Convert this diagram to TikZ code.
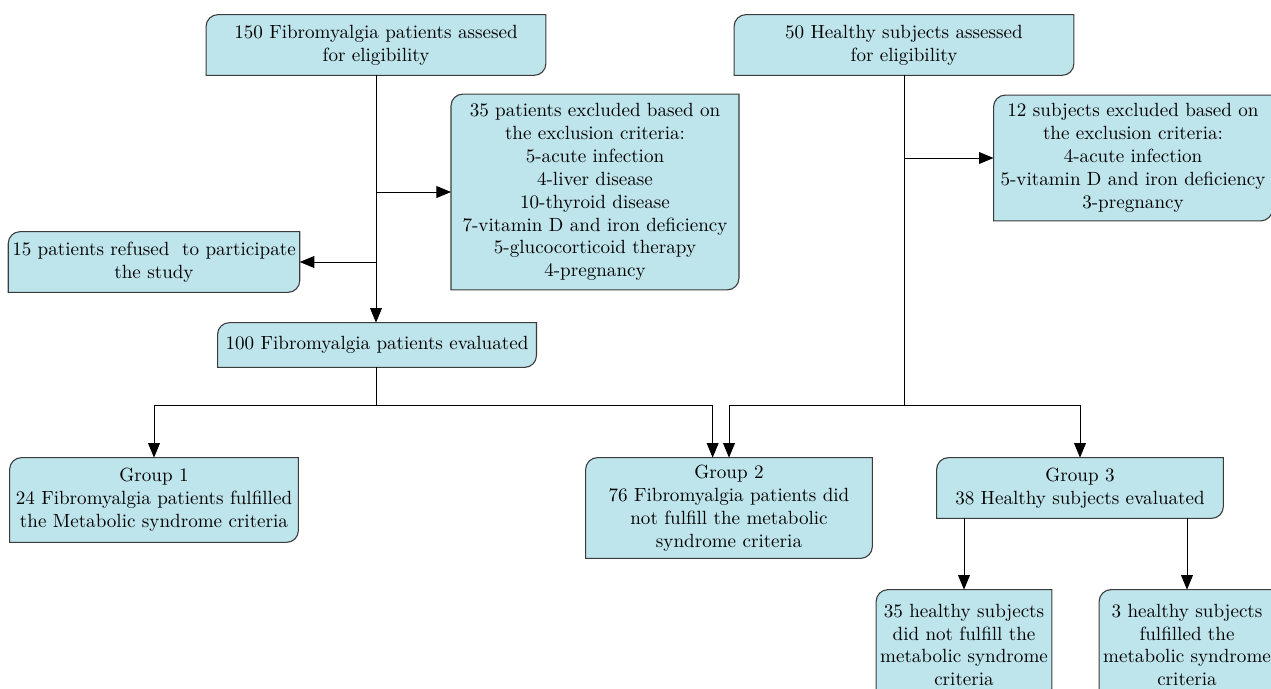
\documentclass[tikz,border=0pt]{standalone}
\usepackage{tikz}
\usetikzlibrary{arrows.meta, backgrounds}

\definecolor{boxblue}{RGB}{190,228,236}
\definecolor{boxedge}{RGB}{60,60,60}

% box with two rounded corners (top left, bottom right)
\newcommand{\halfround}[1]{%
  \draw[boxline] (#1.north east) -- ([xshift=6.5pt]#1.north west)
    arc[start angle=90, end angle=180, radius=6.5pt] -- (#1.south west)
    -- ([xshift=-6.5pt]#1.south east)
    arc[start angle=-90, end angle=0, radius=6.5pt] -- cycle;}

\tikzset{
  flowbox/.style={align=center, inner sep=2pt, font=\fontsize{10.5}{12.6}\selectfont},
  boxline/.style={fill=boxblue, draw=boxedge, line width=0.6pt},
  arr/.style={-{Triangle[length=8pt, width=6.5pt]}, line width=0.5pt},
  link/.style={line width=0.5pt}
}

\begin{document}
\begin{tikzpicture}[x=0.55pt, y=-0.55pt]
  \useasboundingbox (0,0) rectangle (1271,688);
  \clip (0,0) rectangle (1271,688);

  % Top row
  \node[flowbox, minimum width=186.5pt, minimum height=33pt] (fmall) at (376,45)
    {150 Fibromyalgia patients assesed\\for eligibility};
  \node[flowbox, minimum width=186.5pt, minimum height=33pt] (hsall) at (904,45)
    {50 Healthy subjects assessed\\for eligibility};

  % Exclusions
  \node[flowbox, minimum width=158pt, minimum height=107.3pt] (fmexcl) at (595,192)
    {35 patients excluded based on\\the exclusion criteria:\\5-acute infection\\4-liver disease\\10-thyroid disease\\7-vitamin D and iron deficiency\\5-glucocorticoid therapy\\4-pregnancy};
  \node[flowbox, minimum width=153pt, minimum height=68.8pt] (hsexcl) at (1133,158)
    {12 subjects excluded based on\\the exclusion criteria:\\4-acute infection\\5-vitamin D and iron deficiency\\3-pregnancy};
  \node[flowbox, minimum width=158.4pt, minimum height=33pt] (refused) at (154,262)
    {15 patients refused \ to participate\\the study};

  % Evaluated
  \node[flowbox, minimum width=175pt, minimum height=24.2pt] (fmeval) at (377,345)
    {100 Fibromyalgia patients evaluated};

  % Groups
  \node[flowbox, minimum width=158.4pt, minimum height=46.2pt] (grpone) at (154,500)
    {Group 1\\24 Fibromyalgia patients fulfilled\\the Metabolic syndrome criteria};
  \node[flowbox, minimum width=157.3pt, minimum height=55pt] (grptwo) at (729,508)
    {Group 2\\76 Fibromyalgia patients did\\not fulfill the metabolic\\syndrome criteria};
  \node[flowbox, minimum width=157.3pt, minimum height=33pt] (grpthree) at (1080,488)
    {Group 3\\38 Healthy subjects evaluated};

  % Healthy subgroups
  \node[flowbox, minimum width=95pt, minimum height=60.5pt] (hsnot) at (964,645)
    {35 healthy subjects\\did not fulfill the\\metabolic syndrome\\criteria};
  \node[flowbox, minimum width=95pt, minimum height=60.5pt] (hsmet) at (1187,645)
    {3 healthy subjects\\fulfilled the\\metabolic syndrome\\criteria};

  \begin{scope}[on background layer]
    \foreach \b in {fmall, hsall, fmexcl, hsexcl, refused, fmeval, grpone, grptwo, grpthree, hsnot, hsmet}
      \halfround{\b};
  \end{scope}

  % Connectors
  \coordinate (fmjoin) at (376,405);
  \coordinate (hsjoin) at (904,405);
  \draw[arr] (fmall.south) -- (fmall.south |- fmeval.north);
  \draw[arr] (fmexcl.west -| fmall.south) -- (fmexcl.west);
  \draw[arr] (refused.east -| fmall.south) -- (refused.east);
  \draw[link] (fmeval.south -| fmjoin) -- (fmjoin);
  \draw[arr] (fmjoin) -| (grpone.north);
  \draw[arr] (fmjoin) -| ([xshift=-9pt]grptwo.north);
  \draw[link] (hsall.south) -- (hsjoin);
  \draw[arr] (hsexcl.west -| hsall.south) -- (hsexcl.west);
  \draw[arr] (hsjoin) -| (grptwo.north);
  \draw[arr] (hsjoin) -| (grpthree.north);
  \draw[arr] (grpthree.south -| hsnot.north) -- (hsnot.north);
  \draw[arr] (grpthree.south -| hsmet.north) -- (hsmet.north);
\end{tikzpicture}
\end{document}
